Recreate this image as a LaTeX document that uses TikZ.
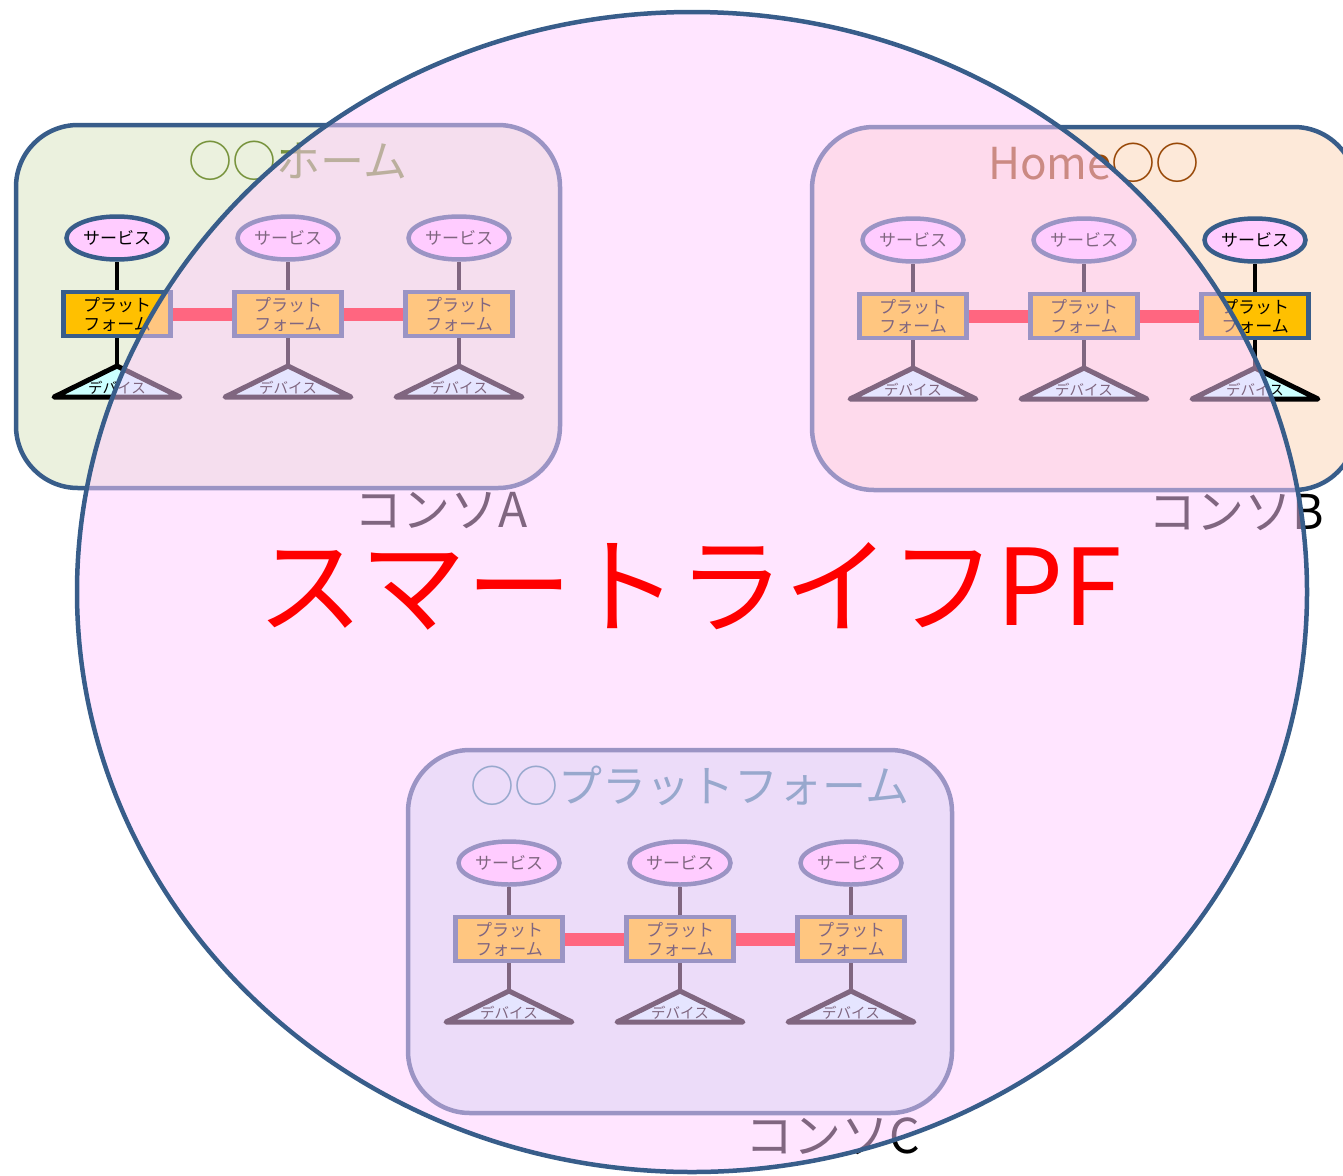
\documentclass[tikz,border=0pt]{standalone}
\usepackage{fontspec}
\usetikzlibrary{shapes.geometric}
\setmainfont{Noto Sans CJK JP}
\definecolor{cblue}{HTML}{385D8A}
\definecolor{afill}{HTML}{EBF1DE}
\definecolor{atext}{HTML}{77933C}
\definecolor{bfill}{HTML}{FDE9D9}
\definecolor{btext}{HTML}{984807}
\definecolor{cfill}{HTML}{DAEEF3}
\definecolor{ctext}{HTML}{31859C}
\definecolor{svcfill}{HTML}{FFCCFF}
\definecolor{pffill}{HTML}{FFC000}
\definecolor{devfill}{HTML}{CCFFFF}
\definecolor{pinkfill}{HTML}{FFCCFF}
\tikzset{
  consbox/.style={draw=cblue, line width=4.5pt, rounded corners=62pt, minimum width=544pt, minimum height=363pt, inner sep=0pt},
  svc/.style={ellipse, draw=cblue, fill=svcfill, line width=4.5pt, minimum width=101pt, minimum height=43pt, inner sep=0pt, font=\fontsize{17}{18}\selectfont},
  pf/.style={rectangle, draw=cblue, fill=pffill, line width=4.5pt, minimum width=107pt, minimum height=44pt, inner sep=0pt, align=center, font=\fontsize{17}{19}\selectfont},
  dev/.style={draw=black, fill=devfill, line width=5pt, line join=round, line cap=round},
  devtext/.style={inner sep=0pt, font=\fontsize{14.5}{15}\selectfont},
  vline/.style={draw=black, line width=4.5pt},
  link/.style={draw=red, line width=13pt},
  ttl/.style={inner sep=0pt, font=\fontsize{44}{48}\selectfont},
  conslab/.style={inner sep=0pt, anchor=east, text=black, font=\fontsize{48}{50}\selectfont},
  bigtxt/.style={inner sep=0pt, text=red, font=\fontsize{106}{110}\selectfont}
}
\newcommand\drawcons[7]{%
  \node[consbox, fill=#4] (#1box) at (#2+272, #3+181.5) {};
  \node[ttl, text=#5] (#1title) at (#2+282, #3+36) {#6};
  \node[conslab] (#1lab) at (#2+512, #3+386) {#7};
  \foreach \i/\dx in {1/101,2/272,3/443} {
    \node[svc] (#1s\i) at (#2+\dx, #3+113) {サービス};
    \node[pf] (#1p\i) at (#2+\dx, #3+189) {プラット\\フォーム};
    \coordinate (#1a\i) at (#2+\dx, #3+241);
    \draw[vline] (#1s\i) -- (#1p\i);
    \draw[vline] (#1p\i) -- (#1a\i);
    \draw[dev] (#1a\i) -- ++(63,31) -- ++(-126,0) -- cycle;
    \node[devtext] (#1d\i) at (#2+\dx, #3+263) {デバイス};
  }
  \draw[link] (#1p1) -- (#1p2);
  \draw[link] (#1p2) -- (#1p3);
}
\begin{document}
\begin{tikzpicture}[x=1pt, y=-1pt]
\useasboundingbox (0,0) rectangle (1343,1175);
\drawcons{A}{16}{125}{afill}{atext}{○○ホーム}{コンソA}
\drawcons{B}{812}{127}{bfill}{btext}{Home○○}{コンソB}
\drawcons{C}{408}{750}{cfill}{ctext}{○○プラットフォーム}{コンソC}
\draw[draw=cblue, line width=4.5pt, fill=pinkfill, fill opacity=0.5] (692,592) ellipse [x radius=615pt, y radius=580pt];
\node[bigtxt] (pf) at (690,586) {スマートライフPF};
\end{tikzpicture}
\end{document}
